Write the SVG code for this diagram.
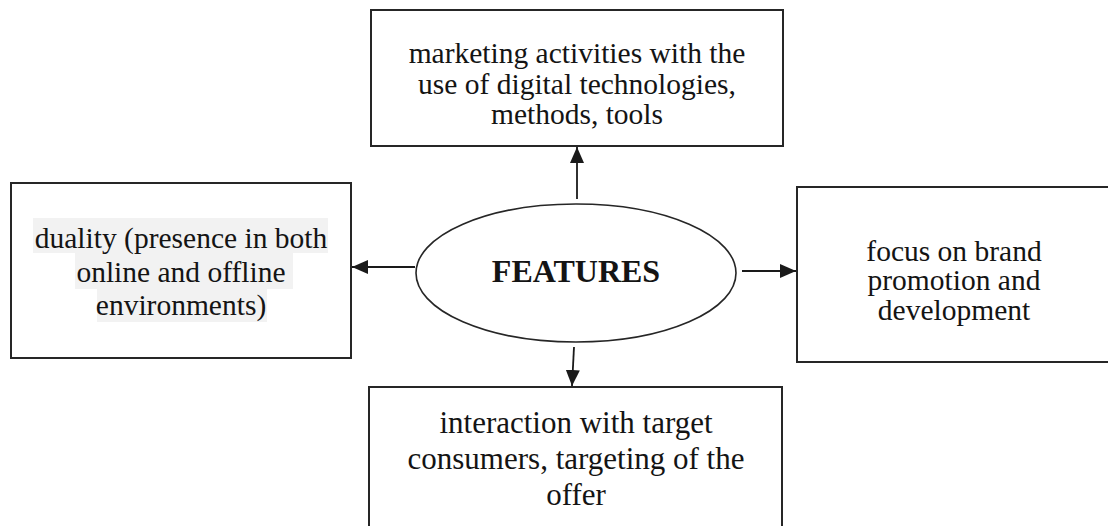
<svg xmlns="http://www.w3.org/2000/svg" width="1108" height="526" viewBox="0 0 1108 526">
<style>
.box{fill:#fff;stroke:#262626;stroke-width:2}
.ell{fill:#fff;stroke:#262626;stroke-width:1.6}
.t{font-family:"Liberation Serif","Times New Roman",serif;font-size:29.5px;fill:#141414;text-anchor:middle}
.tb{font-size:31px}
.title{font-family:"Liberation Serif","Times New Roman",serif;font-size:32px;font-weight:bold;fill:#141414;text-anchor:middle}
.hl{fill:#f2f2f2}
.c{stroke:#1a1a1a;stroke-width:1.8;fill:none;marker-end:url(#ah)}
</style>
<defs>
<marker id="ah" markerUnits="userSpaceOnUse" markerWidth="16" markerHeight="14" refX="16" refY="7" orient="auto">
<path d="M0,0 L16,7 L0,14 z" fill="#1a1a1a"/>
</marker>
</defs>
<rect width="1108" height="526" fill="#fff"/>
<g id="top">
<rect class="box" x="371" y="10" width="412" height="136"/>
<text class="t" x="577" y="63">marketing activities with the</text>
<text class="t" x="577" y="94">use of digital technologies,</text>
<text class="t" x="577" y="124">methods, tools</text>
</g>
<g id="left">
<rect class="box" x="11" y="183" width="340" height="175"/>
<rect class="hl" x="33" y="218" width="295" height="35"/>
<rect class="hl" x="75" y="253" width="218" height="36"/>
<rect class="hl" x="97" y="289" width="170" height="33"/>
<text class="t" x="181" y="248">duality (presence in both</text>
<text class="t" x="181" y="282">online and offline</text>
<text class="t" x="181" y="315">environments)</text>
</g>
<g id="right">
<rect class="box" x="797" y="187" width="320" height="175"/>
<text class="t" x="954" y="261">focus on brand</text>
<text class="t" x="954" y="290">promotion and</text>
<text class="t" x="954" y="320">development</text>
</g>
<g id="bottom">
<rect class="box" x="369" y="387" width="413" height="160"/>
<text class="t tb" x="576" y="433">interaction with target</text>
<text class="t tb" x="576" y="469">consumers, targeting of the</text>
<text class="t tb" x="576" y="505">offer</text>
</g>
<g id="center">
<ellipse class="ell" cx="576" cy="273" rx="160" ry="69"/>
<text class="title" x="576" y="282">FEATURES</text>
</g>
<g id="connectors">
<line class="c" x1="577" y1="199" x2="577" y2="147"/>
<line class="c" x1="415" y1="267" x2="352" y2="267"/>
<line class="c" x1="742" y1="271" x2="796" y2="271"/>
<line class="c" x1="574" y1="347" x2="572" y2="386"/>
</g>
</svg>
